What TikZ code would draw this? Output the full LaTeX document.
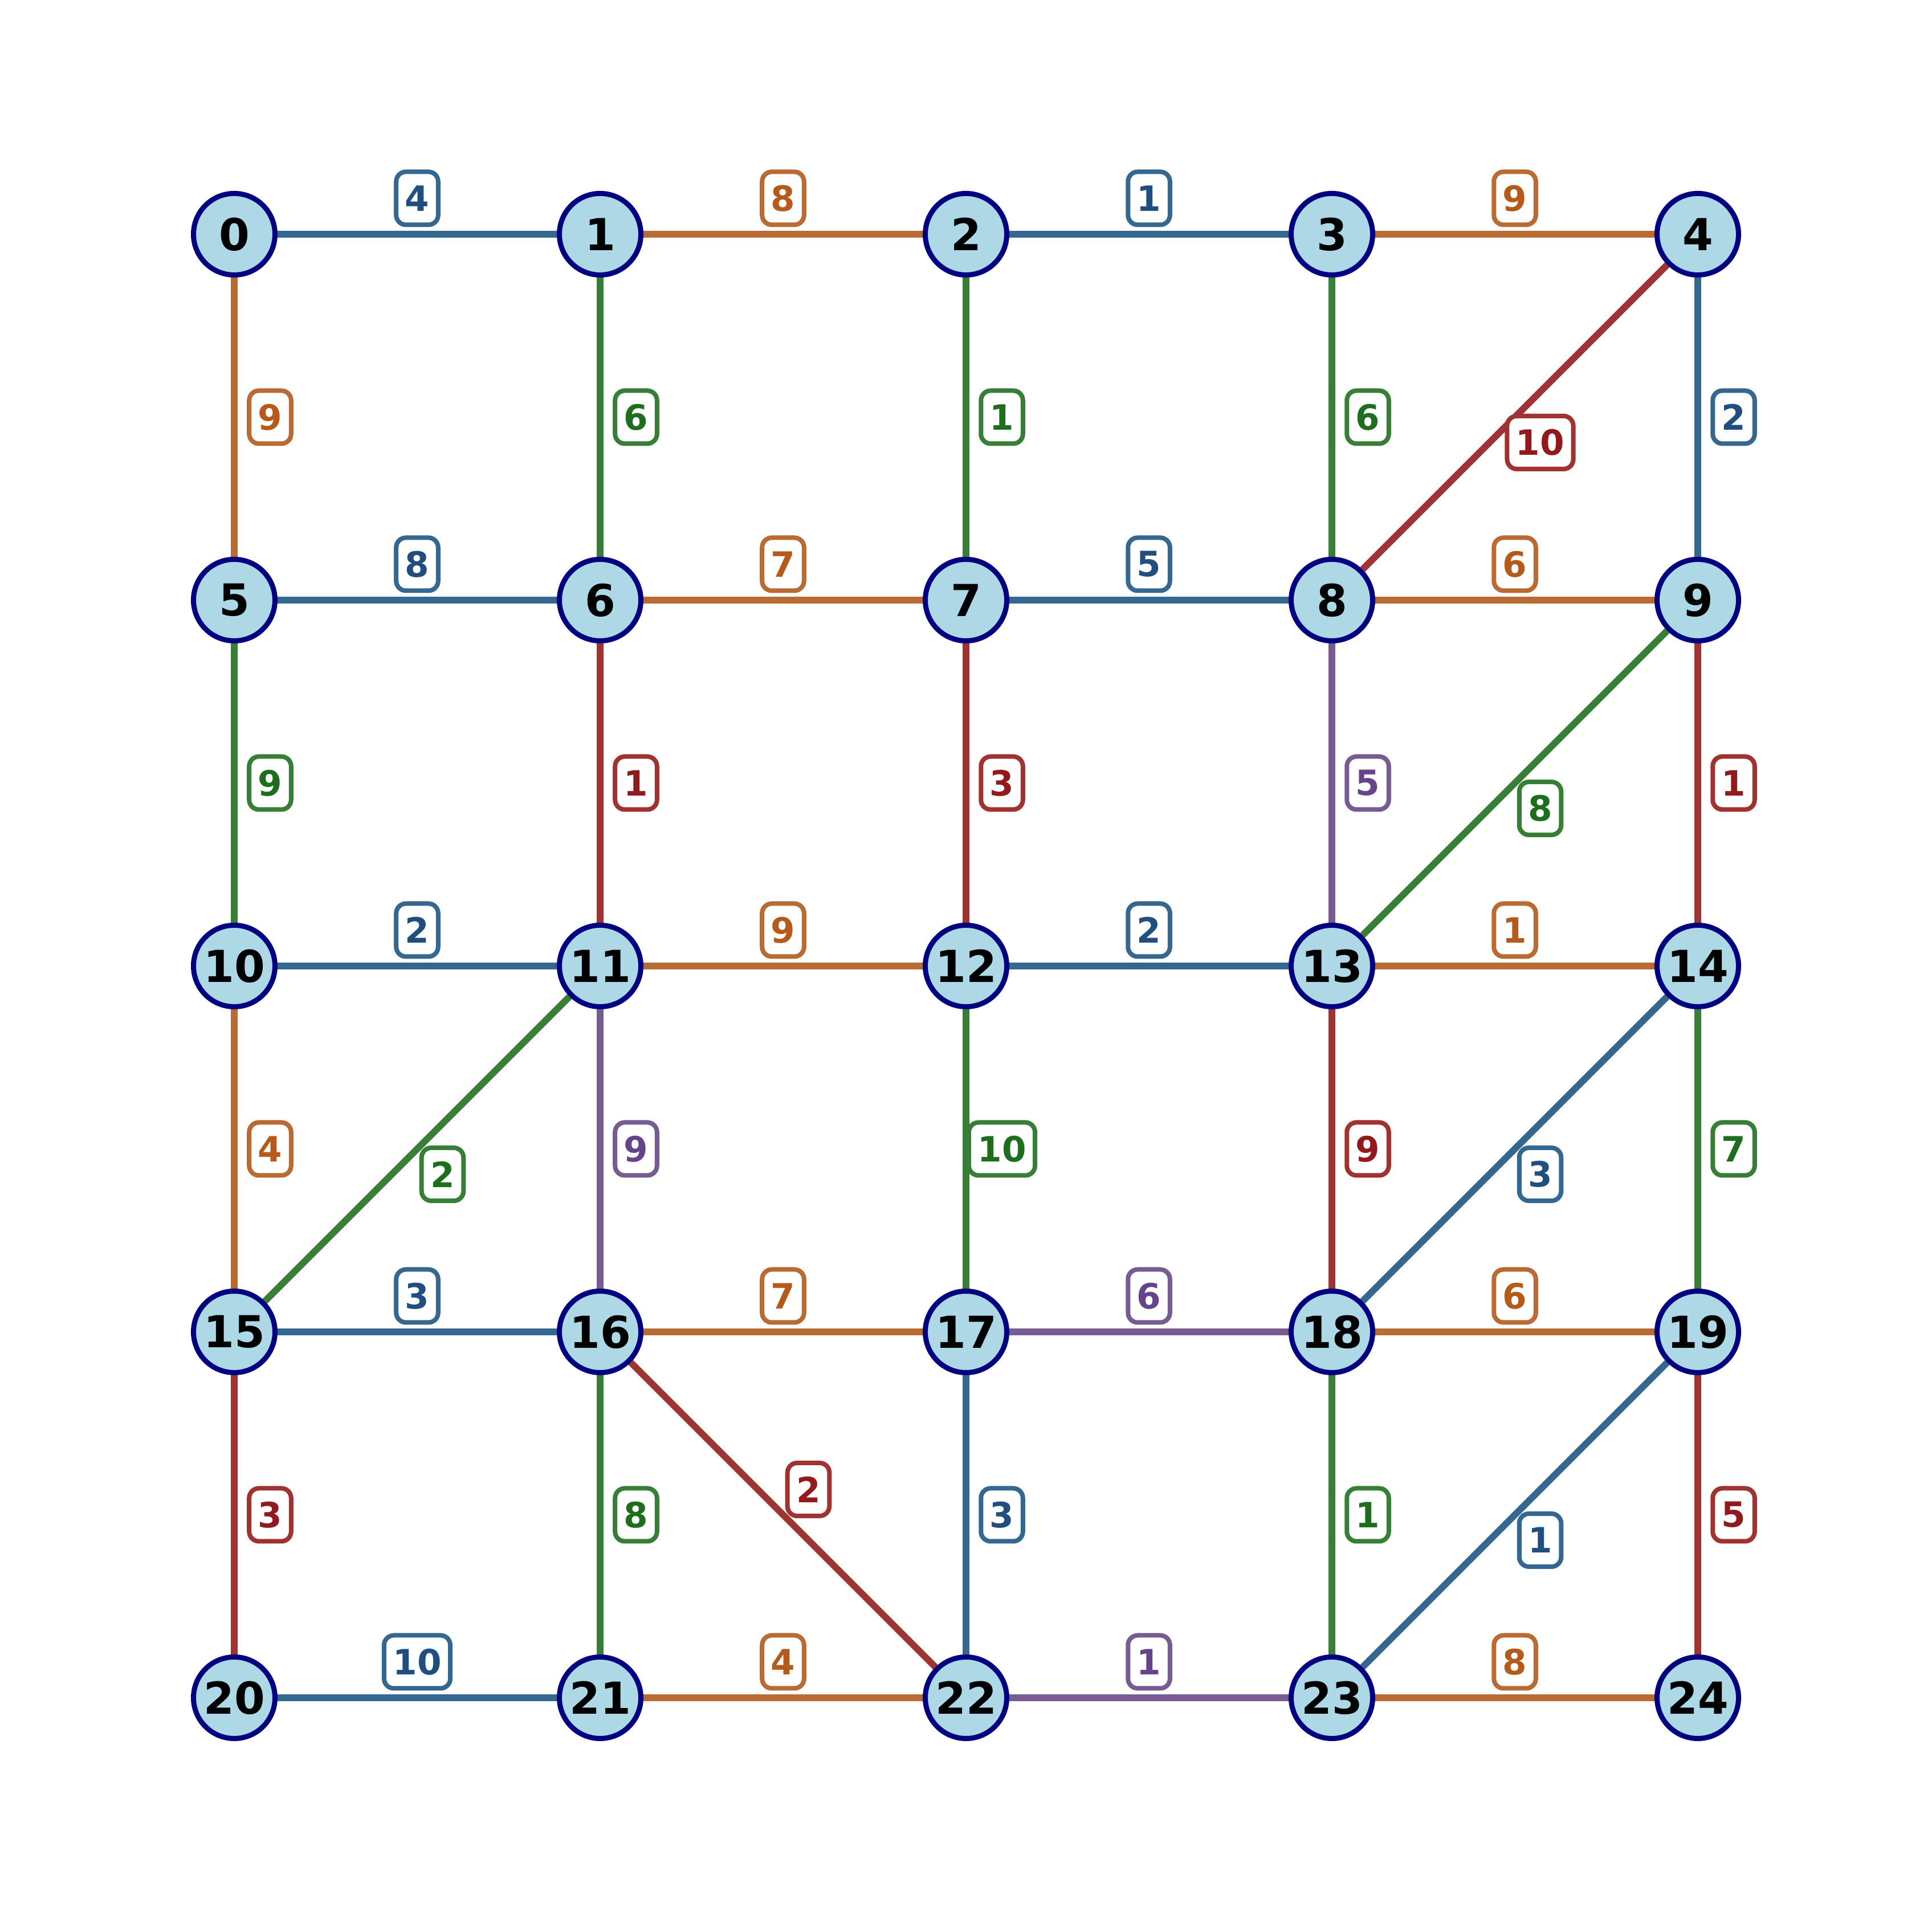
\documentclass[tikz,border=0pt]{standalone}
\usepackage{fontspec}
\setmainfont{DejaVu Sans}
\pgfdeclarelayer{bg}
\pgfsetlayers{bg,main}
\definecolor{eblue}{HTML}{346890}
\definecolor{tblue}{HTML}{1F4E7F}
\definecolor{eorange}{HTML}{BA6A33}
\definecolor{torange}{HTML}{B55A1A}
\definecolor{egreen}{HTML}{377E37}
\definecolor{tgreen}{HTML}{1E6E1E}
\definecolor{ered}{HTML}{A03232}
\definecolor{tred}{HTML}{921A1E}
\definecolor{epurple}{HTML}{775B93}
\definecolor{tpurple}{HTML}{65448A}
\definecolor{nfill}{HTML}{ADD8E6}
\definecolor{nborder}{HTML}{000080}
\tikzset{
  vtx/.style={circle, draw=nborder, fill=nfill, line width=0.09cm, minimum size=1.43cm, inner sep=0pt,
    font=\fontsize{22pt}{26pt}\selectfont\bfseries, text=black},
  lbl/.style={draw, fill=white, rounded corners=0.17cm, line width=0.08cm, inner xsep=0.155cm, inner ysep=0pt,
    minimum height=0.93cm, font=\fontsize{17.4pt}{20pt}\selectfont\bfseries},
  eB/.style={draw=eblue, line width=0.117cm},
  eO/.style={draw=eorange, line width=0.117cm},
  eG/.style={draw=egreen, line width=0.117cm},
  eR/.style={draw=ered, line width=0.117cm},
  eP/.style={draw=epurple, line width=0.117cm},
  lB/.style={lbl, draw=eblue, text=tblue},
  lO/.style={lbl, draw=eorange, text=torange},
  lG/.style={lbl, draw=egreen, text=tgreen},
  lR/.style={lbl, draw=ered, text=tred},
  lP/.style={lbl, draw=epurple, text=tpurple},
  up/.style={midway, yshift=0.63cm},
  rt/.style={midway, xshift=0.63cm},
  dr/.style={midway, xshift=0.445cm, yshift=-0.445cm},
  ur/.style={midway, xshift=0.445cm, yshift=0.445cm},
}
\begin{document}
\begin{tikzpicture}
\useasboundingbox (0,0) rectangle (33.9,33.9);
\foreach \j in {0,...,4}{
  \foreach \i in {0,...,4}{
    \pgfmathtruncatemacro{\n}{5*\j+\i}
    \node[vtx] (n\n) at ({4.11+6.42*\i},{29.79-6.42*\j}) {\n};
  }
}
\begin{pgfonlayer}{bg}
% row 0
\draw[eB] (n0) -- node[up,lB]{4} (n1);
\draw[eO] (n1) -- node[up,lO]{8} (n2);
\draw[eB] (n2) -- node[up,lB]{1} (n3);
\draw[eO] (n3) -- node[up,lO]{9} (n4);
\draw[eO] (n0) -- node[rt,lO]{9} (n5);
\draw[eG] (n1) -- node[rt,lG]{6} (n6);
\draw[eG] (n2) -- node[rt,lG]{1} (n7);
\draw[eG] (n3) -- node[rt,lG]{6} (n8);
\draw[eB] (n4) -- node[rt,lB]{2} (n9);
\draw[eR] (n4) -- node[dr,lR]{10} (n8);
% row 1
\draw[eB] (n5) -- node[up,lB]{8} (n6);
\draw[eO] (n6) -- node[up,lO]{7} (n7);
\draw[eB] (n7) -- node[up,lB]{5} (n8);
\draw[eO] (n8) -- node[up,lO]{6} (n9);
\draw[eG] (n5) -- node[rt,lG]{9} (n10);
\draw[eR] (n6) -- node[rt,lR]{1} (n11);
\draw[eR] (n7) -- node[rt,lR]{3} (n12);
\draw[eP] (n8) -- node[rt,lP]{5} (n13);
\draw[eR] (n9) -- node[rt,lR]{1} (n14);
\draw[eG] (n9) -- node[dr,lG]{8} (n13);
% row 2
\draw[eB] (n10) -- node[up,lB]{2} (n11);
\draw[eO] (n11) -- node[up,lO]{9} (n12);
\draw[eB] (n12) -- node[up,lB]{2} (n13);
\draw[eO] (n13) -- node[up,lO]{1} (n14);
\draw[eO] (n10) -- node[rt,lO]{4} (n15);
\draw[eP] (n11) -- node[rt,lP]{9} (n16);
\draw[eG] (n12) -- node[rt,lG]{10} (n17);
\draw[eR] (n13) -- node[rt,lR]{9} (n18);
\draw[eG] (n14) -- node[rt,lG]{7} (n19);
\draw[eG] (n11) -- node[dr,lG]{2} (n15);
\draw[eB] (n14) -- node[dr,lB]{3} (n18);
% row 3
\draw[eB] (n15) -- node[up,lB]{3} (n16);
\draw[eO] (n16) -- node[up,lO]{7} (n17);
\draw[eP] (n17) -- node[up,lP]{6} (n18);
\draw[eO] (n18) -- node[up,lO]{6} (n19);
\draw[eR] (n15) -- node[rt,lR]{3} (n20);
\draw[eG] (n16) -- node[rt,lG]{8} (n21);
\draw[eB] (n17) -- node[rt,lB]{3} (n22);
\draw[eG] (n18) -- node[rt,lG]{1} (n23);
\draw[eR] (n19) -- node[rt,lR]{5} (n24);
\draw[eR] (n16) -- node[ur,lR]{2} (n22);
\draw[eB] (n19) -- node[dr,lB]{1} (n23);
% row 4
\draw[eB] (n20) -- node[up,lB]{10} (n21);
\draw[eO] (n21) -- node[up,lO]{4} (n22);
\draw[eP] (n22) -- node[up,lP]{1} (n23);
\draw[eO] (n23) -- node[up,lO]{8} (n24);
\end{pgfonlayer}
\end{tikzpicture}
\end{document}
